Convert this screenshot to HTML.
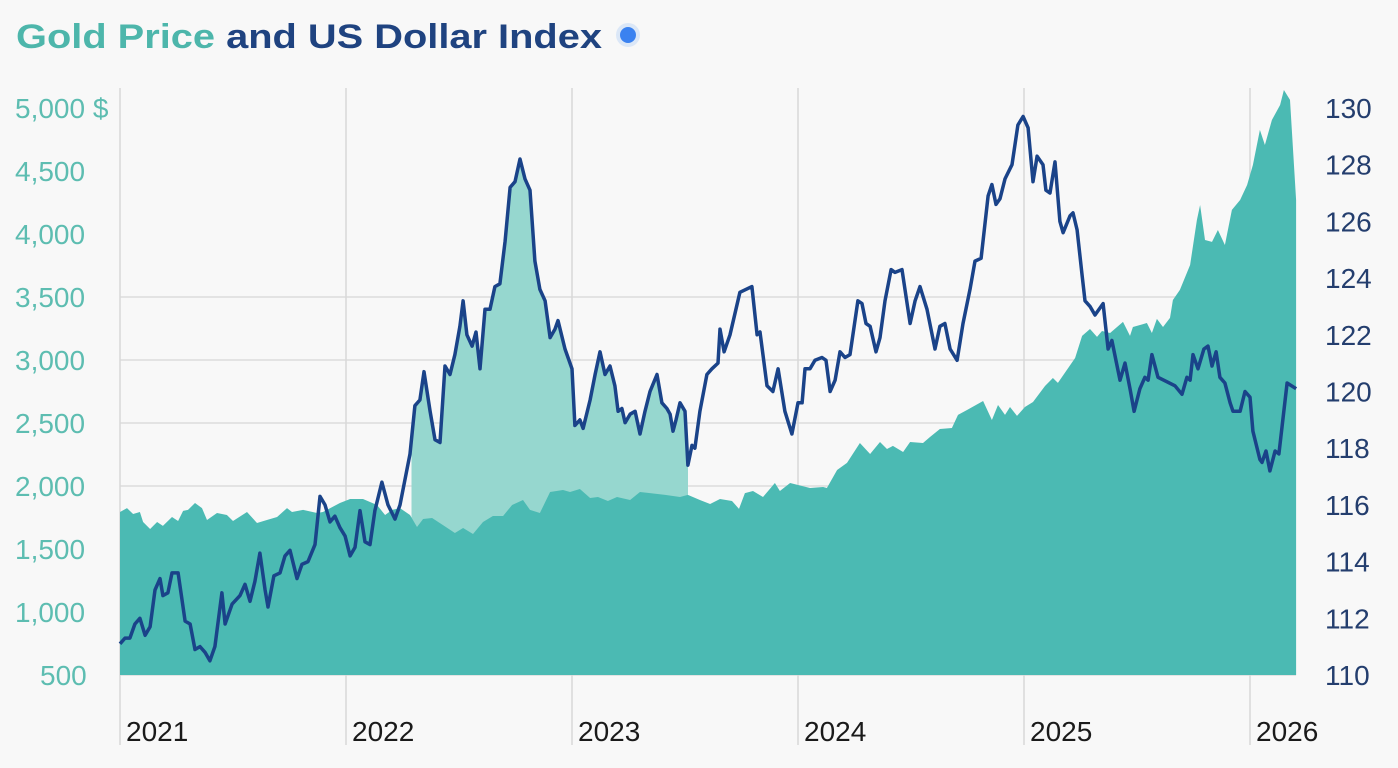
<!DOCTYPE html>
<html><head><meta charset="utf-8"><style>
html,body{margin:0;padding:0;background:#f8f8f8;}
svg{display:block;font-family:"Liberation Sans",sans-serif;}
</style></head><body>
<svg id="chart" width="1398" height="768" viewBox="0 0 1398 768">
<rect width="1398" height="768" fill="#f8f8f8"/>
<text x="16" y="48" font-size="34" font-weight="bold" textLength="586" lengthAdjust="spacingAndGlyphs"><tspan fill="#4db6ab">Gold Price</tspan><tspan fill="#1f4380"> and US Dollar Index</tspan></text>
<circle cx="628" cy="35" r="12" fill="#dbe7f7"/>
<circle cx="628" cy="35" r="8" fill="#3b82f0"/>
<g id="grid"></g>
<g id="marks"></g>
<g id="axes"></g>
</svg>
<script>
const leftTicks=[500,1000,1500,2000,2500,3000,3500,4000,4500,5000];
const leftTickLabels=["500","1,000","1,500","2,000","2,500","3,000","3,500","4,000","4,500","5,000 $"];
const gridMax=3500;
const rightTicks=[110,112,114,116,118,120,122,124,126,128,130];
const years=[2021,2022,2023,2024,2025,2026];
const goldDates=[2021.000,2021.031,2021.058,2021.088,2021.102,2021.133,2021.164,2021.190,2021.230,2021.257,2021.279,2021.301,2021.332,2021.363,2021.385,2021.429,2021.473,2021.500,2021.562,2021.606,2021.650,2021.695,2021.739,2021.761,2021.810,2021.872,2021.898,2021.973,2022.018,2022.075,2022.137,2022.173,2022.204,2022.239,2022.283,2022.314,2022.341,2022.381,2022.429,2022.482,2022.518,2022.562,2022.606,2022.650,2022.695,2022.735,2022.783,2022.814,2022.858,2022.903,2022.960,2022.991,2023.035,2023.080,2023.115,2023.159,2023.199,2023.257,2023.301,2023.345,2023.412,2023.478,2023.513,2023.566,2023.611,2023.655,2023.708,2023.739,2023.765,2023.801,2023.845,2023.898,2023.920,2023.965,2024.053,2024.111,2024.128,2024.173,2024.217,2024.274,2024.319,2024.363,2024.394,2024.420,2024.465,2024.496,2024.553,2024.584,2024.628,2024.681,2024.708,2024.748,2024.819,2024.858,2024.885,2024.916,2024.938,2024.969,2025.004,2025.040,2025.093,2025.128,2025.150,2025.226,2025.257,2025.292,2025.323,2025.345,2025.381,2025.438,2025.469,2025.482,2025.544,2025.566,2025.588,2025.615,2025.646,2025.659,2025.690,2025.735,2025.765,2025.779,2025.801,2025.832,2025.858,2025.889,2025.920,2025.956,2025.987,2026.013,2026.044,2026.066,2026.097,2026.133,2026.150,2026.177,2026.204];
const goldValues=[1794,1825,1778,1794,1714,1659,1714,1683,1754,1722,1802,1810,1865,1825,1730,1786,1770,1722,1794,1706,1730,1754,1825,1794,1810,1786,1794,1865,1897,1897,1849,1770,1810,1825,1770,1675,1738,1746,1690,1627,1667,1619,1714,1762,1762,1849,1889,1810,1786,1952,1968,1952,1976,1905,1913,1881,1913,1889,1952,1944,1929,1913,1929,1889,1857,1897,1881,1818,1944,1960,1913,2024,1960,2024,1984,1992,1984,2127,2183,2341,2254,2349,2294,2318,2270,2349,2341,2389,2452,2460,2564,2603,2675,2524,2643,2564,2627,2556,2627,2667,2794,2857,2818,3016,3191,3246,3183,3230,3214,3302,3191,3262,3294,3214,3326,3262,3334,3476,3556,3754,4111,4230,3952,3937,4032,3913,4191,4270,4389,4548,4826,4706,4905,5024,5143,5064,4270];
const usdDates=[2021.000,2021.022,2021.044,2021.066,2021.088,2021.111,2021.133,2021.155,2021.177,2021.190,2021.212,2021.230,2021.257,2021.288,2021.310,2021.332,2021.354,2021.376,2021.398,2021.420,2021.451,2021.465,2021.496,2021.531,2021.553,2021.575,2021.597,2021.619,2021.642,2021.655,2021.681,2021.708,2021.730,2021.752,2021.783,2021.805,2021.832,2021.863,2021.885,2021.907,2021.929,2021.951,2021.973,2021.996,2022.018,2022.040,2022.062,2022.084,2022.106,2022.128,2022.159,2022.186,2022.217,2022.239,2022.283,2022.305,2022.327,2022.345,2022.372,2022.394,2022.416,2022.438,2022.460,2022.482,2022.504,2022.518,2022.535,2022.558,2022.575,2022.593,2022.615,2022.637,2022.659,2022.681,2022.704,2022.726,2022.748,2022.770,2022.792,2022.814,2022.836,2022.858,2022.881,2022.903,2022.925,2022.938,2022.969,2023.000,2023.013,2023.035,2023.049,2023.080,2023.102,2023.124,2023.146,2023.168,2023.190,2023.204,2023.221,2023.235,2023.257,2023.279,2023.301,2023.323,2023.345,2023.376,2023.398,2023.420,2023.434,2023.447,2023.460,2023.478,2023.500,2023.513,2023.531,2023.544,2023.566,2023.597,2023.619,2023.646,2023.655,2023.673,2023.699,2023.743,2023.796,2023.819,2023.832,2023.863,2023.889,2023.912,2023.942,2023.973,2024.000,2024.018,2024.031,2024.053,2024.075,2024.106,2024.124,2024.142,2024.164,2024.186,2024.208,2024.230,2024.265,2024.283,2024.301,2024.319,2024.345,2024.363,2024.385,2024.412,2024.429,2024.460,2024.496,2024.518,2024.540,2024.571,2024.606,2024.628,2024.650,2024.673,2024.704,2024.730,2024.761,2024.783,2024.810,2024.841,2024.858,2024.876,2024.894,2024.916,2024.947,2024.973,2024.996,2025.018,2025.040,2025.058,2025.084,2025.097,2025.115,2025.137,2025.159,2025.173,2025.204,2025.217,2025.235,2025.257,2025.270,2025.292,2025.314,2025.350,2025.372,2025.389,2025.412,2025.425,2025.447,2025.469,2025.487,2025.513,2025.535,2025.549,2025.566,2025.593,2025.668,2025.699,2025.721,2025.735,2025.748,2025.770,2025.796,2025.814,2025.832,2025.850,2025.867,2025.889,2025.912,2025.925,2025.956,2025.978,2026.000,2026.013,2026.044,2026.053,2026.071,2026.088,2026.111,2026.128,2026.164,2026.204];
const usdValues=[111.1,111.3,111.3,111.8,112.0,111.4,111.7,113.0,113.4,112.8,112.9,113.6,113.6,111.9,111.8,110.9,111.0,110.8,110.5,111.0,112.9,111.8,112.5,112.8,113.2,112.6,113.3,114.3,113.0,112.4,113.5,113.6,114.2,114.4,113.4,113.9,114.0,114.6,116.3,116.0,115.4,115.6,115.2,114.9,114.2,114.5,115.8,114.7,114.6,115.8,116.8,116.0,115.5,116.0,117.8,119.5,119.7,120.7,119.3,118.3,118.2,120.9,120.6,121.3,122.3,123.2,122.0,121.6,122.1,120.8,122.9,122.9,123.7,123.8,125.3,127.2,127.4,128.2,127.5,127.1,124.6,123.6,123.2,121.9,122.2,122.5,121.5,120.8,118.8,119.0,118.7,119.7,120.6,121.4,120.6,120.9,120.2,119.3,119.4,118.9,119.2,119.3,118.5,119.3,120.0,120.6,119.6,119.4,119.2,118.6,119.0,119.6,119.3,117.4,118.1,118.0,119.3,120.6,120.8,121.0,122.2,121.4,122.0,123.5,123.7,122.0,122.1,120.2,120.0,120.8,119.3,118.5,119.6,119.6,120.8,120.8,121.1,121.2,121.1,120.0,120.4,121.4,121.2,121.3,123.2,123.1,122.4,122.3,121.4,121.9,123.2,124.3,124.2,124.3,122.4,123.2,123.7,122.9,121.5,122.3,122.4,121.5,121.1,122.4,123.6,124.6,124.7,126.9,127.3,126.6,126.8,127.5,128.0,129.4,129.7,129.3,127.4,128.3,128.0,127.1,127.0,128.1,126.0,125.6,126.2,126.3,125.7,124.1,123.2,123.0,122.7,123.1,121.5,121.8,120.9,120.4,121.0,120.1,119.3,120.1,120.5,120.4,121.3,120.5,120.2,119.9,120.5,120.4,121.3,120.8,121.5,121.6,120.9,121.4,120.5,120.3,119.6,119.3,119.3,120.0,119.8,118.6,117.6,117.5,117.9,117.2,117.9,117.8,120.3,120.1];
const highlightRange=[2022.29,2023.513];

const NS="http://www.w3.org/2000/svg";
const X0=120,PX_PER_YEAR=226,BASE=675;
function xs(t){return X0+(t-2021)*PX_PER_YEAR;}
function yL(v){return BASE-(v-500)/500*63;}
function yR(v){return BASE-(v-110)/2*56.7;}
function mk(tag,attrs,parent){const e=document.createElementNS(NS,tag);for(const k in attrs)e.setAttribute(k,attrs[k]);parent.appendChild(e);return e;}
const svg=document.getElementById('chart');
const grid=document.getElementById('grid'),marks=document.getElementById('marks'),axes=document.getElementById('axes');

leftTicks.forEach((v,i)=>{
  if(v<=gridMax){
    const l=mk('line',{x1:X0,x2:1296,y1:yL(v),y2:yL(v),stroke:'#dcdcdc','stroke-width':1.5},grid);
    
    
  }
  const t=mk('text',{x:v===500?40:15,y:yL(v)+10,'font-size':28,fill:'#5dbdb1'},axes);
  t.textContent=leftTickLabels[i];
  
  
});
rightTicks.forEach(v=>{
  const t=mk('text',{x:1325,y:yR(v)+10,'font-size':28,fill:'#243e6e'},axes);
  t.textContent=String(v);
  
  
});
years.forEach(y=>{
  const l=mk('line',{x1:xs(y),x2:xs(y),y1:88,y2:745,stroke:'#d8d8d8','stroke-width':1.5},grid);
  
  
  const t=mk('text',{x:xs(y)+6,y:741,'font-size':28,fill:'#1a1a1a'},axes);
  t.textContent=String(y);
  
  
});

const defs=mk('defs',{},svg);
const cp=mk('clipPath',{id:'hl'},defs);
mk('rect',{x:xs(highlightRange[0]),y:0,width:xs(highlightRange[1])-xs(highlightRange[0]),height:BASE},cp);
let d='M'+xs(usdDates[0])+','+BASE;
usdDates.forEach((t,i)=>{d+=' L'+xs(t).toFixed(1)+','+yR(usdValues[i]).toFixed(1);});
d+=' L'+xs(usdDates[usdDates.length-1])+','+BASE+' Z';
const hl=mk('path',{d:d,fill:'#96d7cf','clip-path':'url(#hl)'},marks);



let g='M'+xs(goldDates[0])+','+BASE;
goldDates.forEach((t,i)=>{g+=' L'+xs(t).toFixed(1)+','+yL(goldValues[i]).toFixed(1);});
g+=' L'+xs(goldDates[goldDates.length-1])+','+BASE+' Z';
const ga=mk('path',{d:g,fill:'#4bbab3'},marks);



let p='';
usdDates.forEach((t,i)=>{p+=(i?' L':'M')+xs(t).toFixed(1)+','+yR(usdValues[i]).toFixed(1);});
const ln=mk('path',{d:p,fill:'none',stroke:'#1a4389','stroke-width':3.5,'stroke-linejoin':'round'},marks);


</script>
</body></html>
